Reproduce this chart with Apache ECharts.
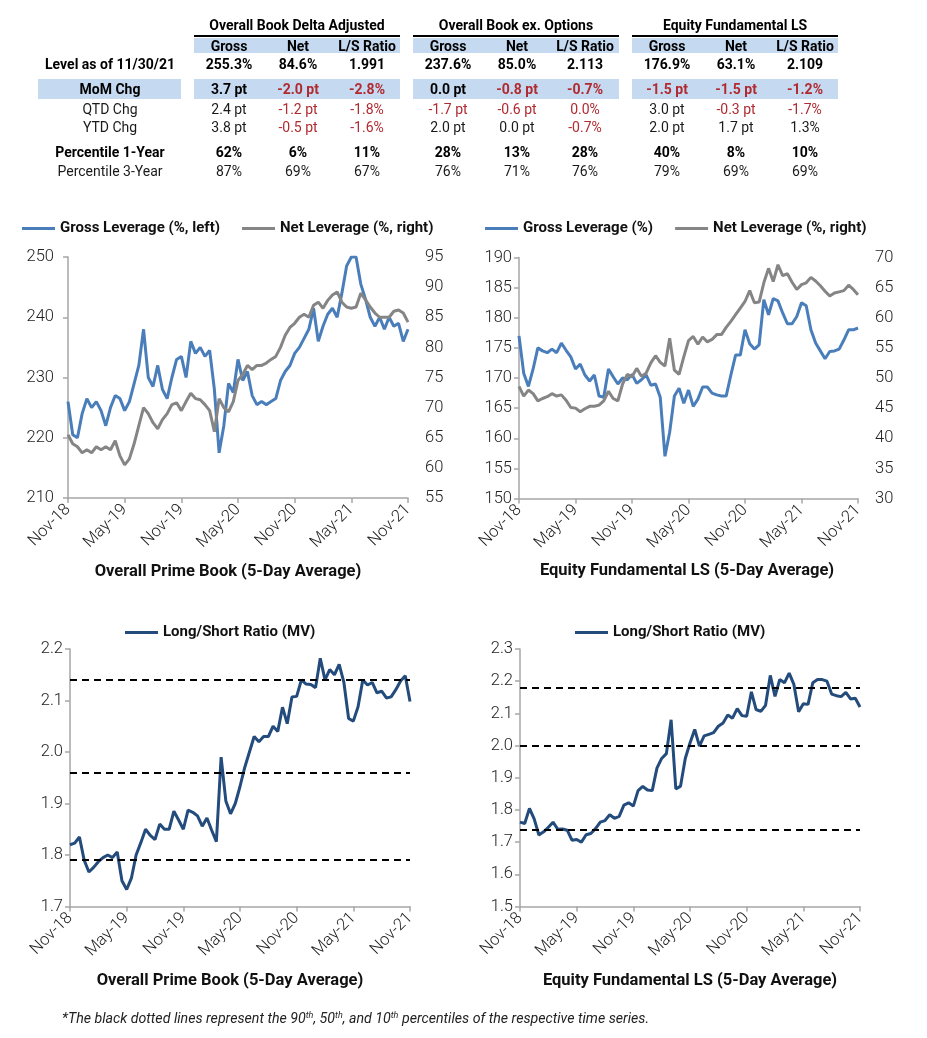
<!DOCTYPE html>
<html><head><meta charset="utf-8">
<script src="https://cdn.jsdelivr.net/npm/echarts@6/dist/echarts.min.js"></script>
<style>
html,body{margin:0;padding:0;background:#fff;}
#wrap{position:relative;width:927px;height:1038px;overflow:hidden;font-family:Roboto,'Noto Sans',sans-serif;}
#chart{position:absolute;left:0;top:0;width:927px;height:1038px;}
#table{position:absolute;left:0;top:0;width:927px;height:190px;}
.c{position:absolute;transform:translate(-50%,-50%);white-space:nowrap;font-size:14px;color:#1a1a1a;line-height:16px;}
.b{font-weight:bold;color:#000;}
.red{color:#b02a30;}
.band{position:absolute;background:#c5d9f1;}
.rule{position:absolute;background:#000;height:2px;}
#note{position:absolute;left:62px;top:1010px;font-size:14.2px;font-style:italic;color:#222;white-space:nowrap;line-height:17px;}
#note sup{font-size:9px;line-height:0;vertical-align:5px;}
</style></head><body>
<div id="wrap">
<div id="chart"></div>
<div id="table"></div>
<div id="note">*The black dotted lines represent the 90<sup>th</sup>, 50<sup>th</sup>, and 10<sup>th</sup> percentiles of the respective time series.</div>
</div>
<script>
// ---------------- table data ----------------
const tableGroups = ['Overall Book Delta Adjusted', 'Overall Book ex. Options', 'Equity Fundamental LS'];
const tableCols = ['Gross', 'Net', 'L/S Ratio'];
const rowLabels = ['Level as of 11/30/21', 'MoM Chg', 'QTD Chg', 'YTD Chg', 'Percentile 1-Year', 'Percentile 3-Year'];
const rowLevel = ['255.3%', '84.6%', '1.991', '237.6%', '85.0%', '2.113', '176.9%', '63.1%', '2.109'];
const rowMoM   = ['3.7 pt', '-2.0 pt', '-2.8%', '0.0 pt', '-0.8 pt', '-0.7%', '-1.5 pt', '-1.5 pt', '-1.2%'];
const rowQTD   = ['2.4 pt', '-1.2 pt', '-1.8%', '-1.7 pt', '-0.6 pt', '0.0%', '3.0 pt', '-0.3 pt', '-1.7%'];
const rowYTD   = ['3.8 pt', '-0.5 pt', '-1.6%', '2.0 pt', '0.0 pt', '-0.7%', '2.0 pt', '1.7 pt', '1.3%'];
const rowP1    = ['62%', '6%', '11%', '28%', '13%', '28%', '40%', '8%', '10%'];
const rowP3    = ['87%', '69%', '67%', '76%', '71%', '76%', '79%', '69%', '69%'];
const redQTDExtra = [5]; // 0.0% shown in red

// ---------------- chart data ----------------
const tickLabels = ['Nov-18', 'May-19', 'Nov-19', 'May-20', 'Nov-20', 'May-21', 'Nov-21'];
const periods = [];
for (let i = 0; i <= 72; i++) {
  const m = 10 + Math.floor(i / 2);
  periods.push((2018 + Math.floor(m / 12)) + '-' + String(m % 12 + 1).padStart(2, '0') + (i % 2 ? '-H2' : '-H1'));
}
const primeGross = [226, 220.5, 220, 224, 226.5, 225, 226, 224.5, 222, 225, 227, 226.5, 224.5, 226, 229, 232, 238, 230, 228.5, 232, 228, 226.5, 230, 233, 233.5, 230, 236, 234, 235, 233.5, 234.5, 228, 217.5, 222, 229, 227.5, 233, 229.5, 231, 227, 225.5, 226, 225.5, 226, 226.5, 229.5, 231, 232, 234, 235, 236.5, 238, 241.5, 236, 238.5, 240.5, 241.5, 240, 244, 248.5, 250, 250, 245.5, 243, 240, 238.5, 240, 238, 240, 238.5, 239, 236, 238];
const primeNet = [65.5, 64, 63.5, 62.5, 63, 62.5, 63.5, 63, 63.5, 63, 64.5, 62, 60.5, 61.5, 64, 67, 70, 69, 67.5, 66.5, 68, 69, 70.5, 70.8, 69.5, 71, 72.4, 71.5, 71.3, 70.5, 69.5, 66, 71.5, 70, 69.3, 71, 74.5, 75.5, 77, 76.3, 77, 77, 77.4, 78, 78.5, 80, 82, 83.3, 84, 85, 85.5, 85, 87, 87.5, 86.5, 87.8, 88.7, 89.2, 87.5, 86.7, 86.5, 86.7, 89, 87.9, 86.7, 85.7, 85, 85, 85, 86, 86.2, 85.7, 84.2];
const eqGross = [177, 170.8, 168.6, 171.5, 175, 174.5, 174.2, 174.8, 174.2, 175.8, 174.6, 173.5, 171.5, 172.3, 170.5, 169.5, 170.5, 167, 166.8, 171.5, 170.2, 169, 170, 169.7, 170.6, 169.1, 169.7, 170.5, 168.8, 169, 166.8, 157, 161, 167, 168.3, 165.8, 168, 165.3, 166.5, 168.5, 168.5, 167.5, 167.2, 167, 167, 170.5, 173.8, 173.8, 178, 175.7, 174.8, 175.5, 183, 180.5, 183.2, 182.8, 180.8, 179, 179, 180.2, 182.5, 182, 178, 175.8, 174.5, 173.2, 174.4, 174.5, 174.8, 176.3, 178, 178, 178.3];
const eqNet = [48.6, 47, 48, 47.4, 46.2, 46.6, 46.9, 47.4, 47, 47.2, 46.3, 45.1, 45, 44.4, 44.9, 45.3, 45.3, 45.5, 46.2, 47.8, 46.6, 46.2, 49, 50.6, 50.2, 51.6, 50.3, 50.8, 52.5, 53.7, 52.6, 52, 56.6, 51.3, 50.6, 53.5, 56.2, 56.9, 55.6, 56.8, 56, 56.4, 57.2, 57.2, 58.4, 59.4, 60.5, 61.6, 62.7, 64.5, 62.5, 62.6, 65.8, 68.2, 66, 68.8, 67, 67.3, 65.9, 64.7, 65.5, 65.8, 66.7, 66.1, 65.3, 64.4, 63.6, 64.1, 64.3, 64.5, 65.4, 64.7, 63.8];
const primeLS = [1.82, 1.823, 1.835, 1.79, 1.767, 1.776, 1.787, 1.795, 1.80, 1.795, 1.806, 1.75, 1.733, 1.755, 1.80, 1.824, 1.85, 1.838, 1.83, 1.86, 1.85, 1.85, 1.885, 1.868, 1.85, 1.887, 1.883, 1.876, 1.856, 1.872, 1.848, 1.826, 1.99, 1.905, 1.88, 1.9, 1.933, 1.97, 2.0, 2.03, 2.02, 2.03, 2.03, 2.05, 2.04, 2.087, 2.055, 2.107, 2.108, 2.14, 2.132, 2.131, 2.125, 2.182, 2.14, 2.16, 2.15, 2.17, 2.135, 2.065, 2.06, 2.088, 2.14, 2.13, 2.135, 2.115, 2.118, 2.105, 2.107, 2.121, 2.138, 2.148, 2.098];
const eqLS = [1.762, 1.758, 1.805, 1.772, 1.722, 1.732, 1.746, 1.762, 1.74, 1.741, 1.737, 1.706, 1.708, 1.7, 1.723, 1.727, 1.742, 1.762, 1.767, 1.785, 1.774, 1.78, 1.815, 1.822, 1.812, 1.86, 1.873, 1.862, 1.86, 1.93, 1.96, 1.975, 2.08, 1.865, 1.874, 1.96, 2.008, 2.05, 1.998, 2.03, 2.035, 2.04, 2.06, 2.07, 2.095, 2.085, 2.115, 2.093, 2.091, 2.167, 2.112, 2.106, 2.125, 2.218, 2.153, 2.205, 2.195, 2.225, 2.19, 2.105, 2.13, 2.128, 2.195, 2.205, 2.205, 2.2, 2.16, 2.155, 2.152, 2.165, 2.145, 2.147, 2.12];
const primePctl = [2.14, 1.962, 1.79];
const eqPctl = [2.18, 1.995, 1.735];

// ---------------- build table ----------------
(function () {
  const t = document.getElementById('table');
  const groupX = [[194, 400], [413, 619], [632, 838]];
  const colX = [229, 298, 367, 448, 517, 585, 667, 736, 805];
  const rowY = [63.5, 89, 108.5, 127, 151.5, 170.5];
  const boldRows = [0, 1, 4];
  const rows = [rowLevel, rowMoM, rowQTD, rowYTD, rowP1, rowP3];
  let h = '';
  const band = (x1, y1, x2, y2) => '<div class="band" style="left:' + x1 + 'px;top:' + y1 + 'px;width:' + (x2 - x1) + 'px;height:' + (y2 - y1) + 'px"></div>';
  groupX.forEach(g => { h += band(g[0], 38, g[1], 53); h += band(g[0], 79, g[1], 99); h += '<div class="rule" style="left:' + g[0] + 'px;top:35px;width:' + (g[1] - g[0]) + 'px"></div>'; });
  h += band(38, 79, 181, 99);
  const cell = (x, y, txt, cls) => '<div class="c ' + cls + '" style="left:' + x + 'px;top:' + y + 'px">' + txt + '</div>';
  groupX.forEach((g, i) => { h += cell((g[0] + g[1]) / 2, 25, tableGroups[i], 'b'); });
  colX.forEach((x, i) => { h += cell(x, 45.5, tableCols[i % 3], 'b'); });
  rowLabels.forEach((l, r) => { h += cell(110, rowY[r], l, boldRows.includes(r) ? 'b' : ''); });
  rows.forEach((row, r) => {
    row.forEach((v, c) => {
      let cls = boldRows.includes(r) ? 'b' : '';
      if (v.charAt(0) === '-' || (r === 2 && redQTDExtra.includes(c))) cls += ' red';
      h += cell(colX[c], rowY[r], v, cls);
    });
  });
  t.innerHTML = h;
})();

// ---------------- charts ----------------
const AX = '#a6a6a6';
const FONT = 'Roboto';
const TICKFS = 16.5;
function xAx(grid) {
  return {
    type: 'category', gridIndex: grid, data: periods, boundaryGap: false,
    axisLine: { lineStyle: { color: AX, width: 1.5 } },
    axisTick: { show: true, interval: 11, length: 5, lineStyle: { color: AX, width: 1.5 } },
    axisLabel: { interval: 11, rotate: 45, margin: 9, color: '#222', fontSize: TICKFS, fontFamily: FONT, fontWeight: 300,
      formatter: (v, i) => (i % 12 === 0 ? tickLabels[i / 12] : '') },
    splitLine: { show: false }
  };
}
function yAx(grid, min, max, interval, pos, margin, dec) {
  const left = pos === 'left';
  return {
    type: 'value', gridIndex: grid, min: min, max: max, interval: interval, position: pos,
    axisLine: { show: left, lineStyle: { color: AX, width: 1.5 } },
    axisTick: { show: left, length: 5, lineStyle: { color: AX, width: 1.5 } },
    axisLabel: { margin: margin, color: '#222', fontSize: TICKFS, fontFamily: FONT, fontWeight: 300,
      formatter: v => dec ? v.toFixed(1) : String(Math.round(v)) },
    splitLine: { show: false }
  };
}
function lineS(name, data, xi, yi, color, width) {
  return { type: 'line', name: name, data: data, xAxisIndex: xi, yAxisIndex: yi, showSymbol: false, symbol: 'none',
    lineStyle: { color: color, width: width }, itemStyle: { color: color }, emphasis: { disabled: true } };
}
function pctl(vals) {
  return { symbol: 'none', silent: true, label: { show: false },
    lineStyle: { color: '#000', type: [7, 5], width: 1.8 },
    data: vals.map(v => ({ yAxis: v })) };
}
const BLUE = '#4a7ebb', GRAY = '#858585', DARK = '#234b7c';
const legBase = { icon: 'rect', itemWidth: 33, itemHeight: 3, itemGap: 22, padding: 0, selectedMode: false,
  textStyle: { fontSize: 15, fontWeight: 'bold', color: '#111', fontFamily: FONT } };
const TITLEFONT = 'bold 16.5px Roboto';

const sLSp = lineS('Long/Short Ratio (MV)', primeLS, 2, 4, DARK, 3); sLSp.markLine = pctl(primePctl);
const sLSe = lineS('Long/Short Ratio (MV)', eqLS, 3, 5, DARK, 3); sLSe.markLine = pctl(eqPctl);

const option = {
  animation: false,
  backgroundColor: 'transparent',
  grid: [
    { left: 68, top: 257, width: 340, height: 241 },
    { left: 519, top: 257.5, width: 339, height: 241 },
    { left: 70, top: 649, width: 340, height: 257.5 },
    { left: 520, top: 649, width: 340, height: 257.5 }
  ],
  xAxis: [xAx(0), xAx(1), xAx(2), xAx(3)],
  yAxis: [
    yAx(0, 210, 250, 10, 'left', 14, false),
    yAx(0, 55, 95, 5, 'right', 17, false),
    yAx(1, 150, 190, 5, 'left', 7, false),
    yAx(1, 30, 70, 5, 'right', 17, false),
    yAx(2, 1.7, 2.2, 0.1, 'left', 7, true),
    yAx(3, 1.5, 2.3, 0.1, 'left', 7, true)
  ],
  legend: [
    Object.assign({}, legBase, { left: 22, top: 221, data: ['Gross Leverage (%, left)', 'Net Leverage (%, right)'] }),
    Object.assign({}, legBase, { left: 485, top: 221, data: ['Gross Leverage (%)', 'Net Leverage (%, right)'] }),
    Object.assign({}, legBase, { left: 125, top: 625, data: ['Long/Short Ratio (MV)'] }),
    Object.assign({}, legBase, { left: 575, top: 625, data: ['Long/Short Ratio (MV)'] })
  ],
  graphic: [
    { type: 'text', x: 228, y: 572, style: { text: 'Overall Prime Book (5-Day Average)', align: 'center', verticalAlign: 'middle', font: TITLEFONT, fill: '#111' } },
    { type: 'text', x: 687, y: 571, style: { text: 'Equity Fundamental LS (5-Day Average)', align: 'center', verticalAlign: 'middle', font: TITLEFONT, fill: '#111' } },
    { type: 'text', x: 230, y: 981, style: { text: 'Overall Prime Book (5-Day Average)', align: 'center', verticalAlign: 'middle', font: TITLEFONT, fill: '#111' } },
    { type: 'text', x: 690, y: 981, style: { text: 'Equity Fundamental LS (5-Day Average)', align: 'center', verticalAlign: 'middle', font: TITLEFONT, fill: '#111' } }
  ],
  series: [
    lineS('Gross Leverage (%, left)', primeGross, 0, 0, BLUE, 3),
    lineS('Net Leverage (%, right)', primeNet, 0, 1, GRAY, 3),
    lineS('Gross Leverage (%)', eqGross, 1, 2, BLUE, 3),
    lineS('Net Leverage (%, right)', eqNet, 1, 3, GRAY, 3),
    sLSp, sLSe
  ]
};
const chart = echarts.init(document.getElementById('chart'), null, { renderer: 'canvas' });
chart.setOption(option);
</script>
</body></html>
